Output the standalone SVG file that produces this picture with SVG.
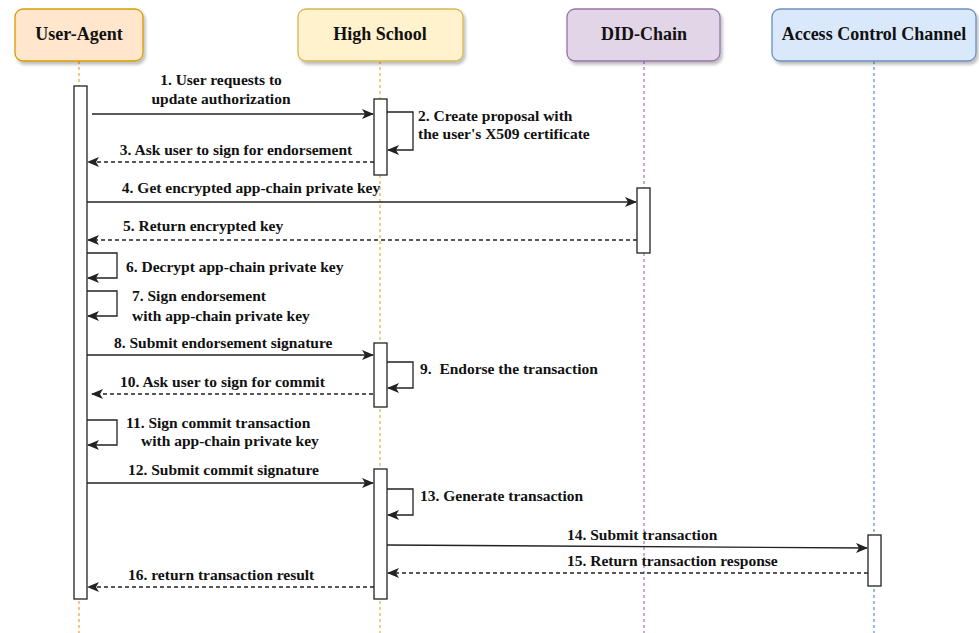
<svg xmlns="http://www.w3.org/2000/svg" width="979" height="633" viewBox="0 0 979 633">
  <style>
    .hdr { font-family: "Liberation Serif", "Times New Roman", serif; font-weight: bold; font-size: 18px; fill: #111; text-anchor: middle; }
    .lbl { font-family: "Liberation Serif", "Times New Roman", serif; font-weight: bold; font-size: 15.5px; fill: #111; }
    .mid { text-anchor: middle; }
    .life { fill: none; stroke-width: 1.2; stroke-dasharray: 3 3; }
    .act { fill: #fff; stroke: #222; stroke-width: 1.3; }
    .msg { fill: none; stroke: #222; stroke-width: 1.3; marker-end: url(#arrow); }
    .ret { stroke-dasharray: 4 3; }
  </style>
  <defs>
    <marker id="arrow" viewBox="0 0 12 10" refX="11" refY="5" markerWidth="12" markerHeight="10" markerUnits="userSpaceOnUse" orient="auto">
      <path d="M0,0 L12,5 L0,10 L3,5 z" fill="#222"/>
    </marker>
    <filter id="shadow" x="-10%" y="-10%" width="130%" height="140%">
      <feDropShadow dx="2" dy="3" stdDeviation="1.5" flood-color="#000" flood-opacity="0.25"/>
    </filter>
  </defs>
  <rect width="979" height="633" fill="#fff"/>

  <!-- lifelines -->
  <g id="lifelines">
    <line class="life" x1="79" y1="61" x2="79" y2="633" stroke="#f0a030"/>
    <line class="life" x1="380" y1="61" x2="380" y2="633" stroke="#e8b040"/>
    <line class="life" x1="644" y1="61" x2="644" y2="633" stroke="#a870c8"/>
    <line class="life" x1="874" y1="61" x2="874" y2="633" stroke="#5b8fd0"/>
  </g>

  <!-- participants -->
  <g id="user-agent">
    <rect x="15" y="9" width="128" height="52" rx="8" fill="#ffe6cc" stroke="#d79b00" stroke-width="1.3" filter="url(#shadow)"/>
    <text class="hdr" x="79" y="40">User-Agent</text>
    <rect class="act" x="74" y="86" width="13" height="513"/>
  </g>
  <g id="high-school">
    <rect x="298" y="9" width="165" height="52" rx="8" fill="#fff2cc" stroke="#d6b656" stroke-width="1.3" filter="url(#shadow)"/>
    <text class="hdr" x="380" y="40">High School</text>
    <rect class="act" x="374" y="99" width="13" height="76"/>
    <rect class="act" x="374" y="343" width="13" height="64"/>
    <rect class="act" x="374" y="469" width="13" height="130"/>
  </g>
  <g id="did-chain">
    <rect x="567" y="9" width="153" height="52" rx="8" fill="#e1d5e7" stroke="#9673a6" stroke-width="1.3" filter="url(#shadow)"/>
    <text class="hdr" x="644" y="40">DID-Chain</text>
    <rect class="act" x="637" y="188" width="13" height="65"/>
  </g>
  <g id="access-control-channel">
    <rect x="772" y="9" width="204" height="52" rx="8" fill="#dae8fc" stroke="#6c8ebf" stroke-width="1.3" filter="url(#shadow)"/>
    <text class="hdr" x="874" y="40">Access Control Channel</text>
    <rect class="act" x="868" y="535" width="13" height="51"/>
  </g>

  <!-- messages -->
  <g id="connectors">
    <line class="msg" x1="92" y1="114" x2="373" y2="114"/>
    <path class="msg" d="M387,112 H413 V150 H388"/>
    <line class="msg ret" x1="374" y1="162" x2="88" y2="162"/>
    <line class="msg" x1="87" y1="202" x2="636" y2="202"/>
    <line class="msg ret" x1="637" y1="240" x2="88" y2="240"/>
    <path class="msg" d="M87,253 H117 V278 H88"/>
    <path class="msg" d="M87,291 H117 V316 H88"/>
    <line class="msg" x1="87" y1="355" x2="373" y2="355"/>
    <path class="msg" d="M387,362 H413 V388 H388"/>
    <line class="msg ret" x1="373" y1="394" x2="92" y2="394"/>
    <path class="msg" d="M87,420 H117 V445 H88"/>
    <line class="msg" x1="87" y1="483" x2="373" y2="483"/>
    <path class="msg" d="M387,489 H413 V515 H388"/>
    <line class="msg" x1="387" y1="545" x2="867" y2="548"/>
    <line class="msg ret" x1="868" y1="573" x2="388" y2="573"/>
    <line class="msg ret" x1="374" y1="587" x2="88" y2="587"/>
  </g>

  <!-- message labels -->
  <g id="labels">
    <text class="lbl mid" x="221" y="85">1. User requests to</text>
    <text class="lbl mid" x="221" y="104">update authorization</text>
    <text class="lbl" x="418" y="121">2. Create proposal with</text>
    <text class="lbl" x="418" y="139">the user's X509 certificate</text>
    <text class="lbl mid" x="236" y="155">3. Ask user to sign for endorsement</text>
    <text class="lbl mid" x="251" y="193">4. Get encrypted app-chain private key</text>
    <text class="lbl" x="123" y="231">5. Return encrypted key</text>
    <text class="lbl" x="126" y="272">6. Decrypt app-chain private key</text>
    <text class="lbl" x="132" y="301">7. Sign endorsement</text>
    <text class="lbl" x="132" y="321">with app-chain private key</text>
    <text class="lbl" x="114" y="348">8. Submit endorsement signature</text>
    <text class="lbl" x="420" y="374" xml:space="preserve">9.  Endorse the transaction</text>
    <text class="lbl" x="120" y="387">10. Ask user to sign for commit</text>
    <text class="lbl" x="126" y="428">11. Sign commit transaction</text>
    <text class="lbl" x="141" y="446">with app-chain private key</text>
    <text class="lbl" x="128" y="475">12. Submit commit signature</text>
    <text class="lbl" x="420" y="501">13. Generate transaction</text>
    <text class="lbl" x="567" y="540">14. Submit transaction</text>
    <text class="lbl" x="567" y="566">15. Return transaction response</text>
    <text class="lbl" x="128" y="580">16. return transaction result</text>
  </g>
</svg>
